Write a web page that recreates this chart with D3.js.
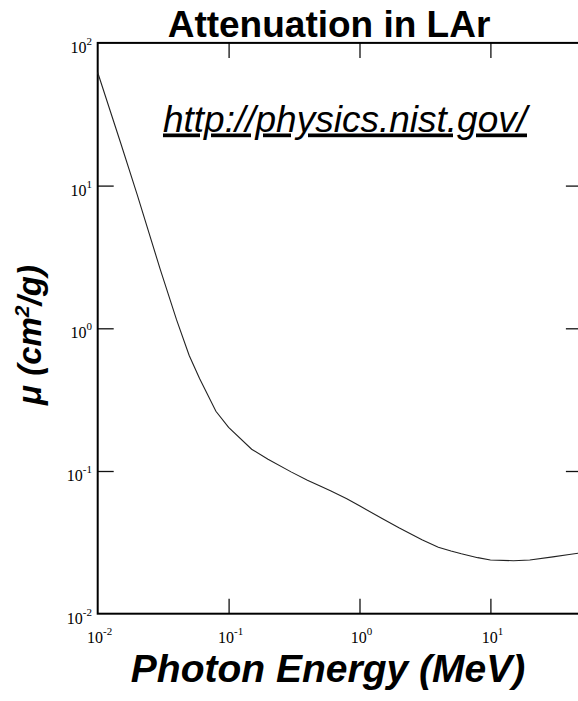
<!DOCTYPE html>
<html>
<head>
<meta charset="utf-8">
<script src="https://cdn.jsdelivr.net/npm/d3@7"></script>
<style>
  html, body { margin: 0; padding: 0; background: #fff; }
  svg { display: block; }
</style>
</head>
<body>
<svg id="chart" width="578" height="701"></svg>
<script>
// Photon energy grid (MeV) and total mass attenuation coefficient of argon (cm^2/g)
const energyMeV = [0.01, 0.015, 0.02, 0.03, 0.04, 0.05, 0.06, 0.08, 0.1, 0.15, 0.2, 0.3, 0.4, 0.5,
                   0.6, 0.8, 1, 1.5, 2, 3, 4, 5, 6, 8, 10, 15, 20, 30, 40, 50];
const muCm2g = [62, 19.8, 8.67, 2.6, 1.15, 0.645, 0.445, 0.262, 0.202, 0.142, 0.121, 0.0986, 0.0863, 0.0785,
                0.0727, 0.0640, 0.0570, 0.0463, 0.0400, 0.0330, 0.0292, 0.0275, 0.0263, 0.0247, 0.0238, 0.0235, 0.0238, 0.0250, 0.0260, 0.0268];

// Decade ticks and their exponent labels
const xTickValues = [0.01, 0.1, 1, 10];
const xTickExponents = ["-2", "-1", "0", "1"];
const yTickValues = [0.01, 0.1, 1, 10, 100];
const yTickExponents = ["-2", "-1", "0", "1", "2"];

const titleText = "Attenuation in LAr";
const sourceText = "http://physics.nist.gov/";
const xLabel = "Photon Energy (MeV)";

const svg = d3.select("#chart");
const plotLeft = 97.7, plotBottom = 613.7, plotTop = 42.9;
const decadeX = 130.9;

const x = d3.scaleLog().domain([0.01, 50]).range([plotLeft, plotLeft + Math.log10(5000) * decadeX]);
const y = d3.scaleLog().domain([0.01, 100]).range([plotBottom, plotTop]);
const plotRight = x.range()[1];

const tickStyle = g => {
  g.select(".domain").remove();
  g.selectAll(".tick line").attr("stroke", "#111").attr("stroke-width", 1.3);
};

// Inward ticks on all four sides
svg.append("g").attr("transform", `translate(0,${plotBottom})`)
  .call(d3.axisBottom(x).tickValues([0.1, 1, 10]).tickSize(-15).tickFormat(""))
  .call(tickStyle);
svg.append("g").attr("transform", `translate(0,${plotTop})`)
  .call(d3.axisTop(x).tickValues([0.1, 1, 10]).tickSize(-15).tickFormat(""))
  .call(tickStyle);
svg.append("g").attr("transform", `translate(${plotLeft},0)`)
  .call(d3.axisLeft(y).tickValues([0.1, 1, 10]).tickSize(-16).tickFormat(""))
  .call(tickStyle);
svg.append("g").attr("transform", `translate(${plotRight},0)`)
  .call(d3.axisRight(y).tickValues([0.1, 1, 10]).tickSize(-16).tickFormat(""))
  .call(tickStyle);

// Frame
svg.append("rect")
  .attr("x", plotLeft).attr("y", plotTop)
  .attr("width", plotRight - plotLeft).attr("height", plotBottom - plotTop)
  .attr("fill", "none").attr("stroke", "#000").attr("stroke-width", 2);

// Attenuation curve
const line = d3.line().x((d, i) => x(energyMeV[i])).y(d => y(d));
svg.append("path")
  .datum(muCm2g)
  .attr("d", line)
  .attr("fill", "none")
  .attr("stroke", "#222")
  .attr("stroke-width", 1.1);

// Power-of-ten tick labels
const labelFont = "'Liberation Serif', 'Times New Roman', serif";
function powerLabel(sel, exp) {
  sel.append("tspan").text("10");
  sel.append("tspan").attr("font-size", 11).attr("dy", -8).text(exp);
}
xTickValues.forEach((v, i) => {
  const t = svg.append("text")
    .attr("x", x(v) + 2).attr("y", plotBottom + 29)
    .attr("text-anchor", "middle")
    .attr("font-family", labelFont).attr("font-size", 16).attr("fill", "#000");
  powerLabel(t, xTickExponents[i]);
});
yTickValues.forEach((v, i) => {
  const t = svg.append("text")
    .attr("x", 92).attr("y", y(v) + 10)
    .attr("text-anchor", "end")
    .attr("font-family", labelFont).attr("font-size", 16).attr("fill", "#000");
  powerLabel(t, yTickExponents[i]);
});

const sans = "'Liberation Sans', Arial, Helvetica, sans-serif";

// Title
svg.append("text")
  .attr("x", 329).attr("y", 37)
  .attr("text-anchor", "middle")
  .attr("font-family", sans).attr("font-weight", "bold").attr("font-size", 37)
  .text(titleText);

// Data source link text
svg.append("text")
  .attr("x", 345).attr("y", 131.5)
  .attr("text-anchor", "middle")
  .attr("font-family", sans).attr("font-style", "italic").attr("font-size", 37)
  .attr("text-decoration", "underline")
  .text(sourceText);

// Axis titles
svg.append("text")
  .attr("x", 328).attr("y", 682)
  .attr("text-anchor", "middle")
  .attr("font-family", sans).attr("font-weight", "bold").attr("font-style", "italic").attr("font-size", 39)
  .text(xLabel);

const yl = svg.append("text")
  .attr("transform", "translate(41,335) rotate(-90)")
  .attr("text-anchor", "middle")
  .attr("font-family", sans).attr("font-weight", "bold").attr("font-style", "italic").attr("font-size", 33);
yl.append("tspan").text("\u03bc (cm");
yl.append("tspan").attr("font-size", 21).attr("dy", -12).text("2");
yl.append("tspan").attr("dy", 12).text("/g)");
</script>
</body>
</html>
